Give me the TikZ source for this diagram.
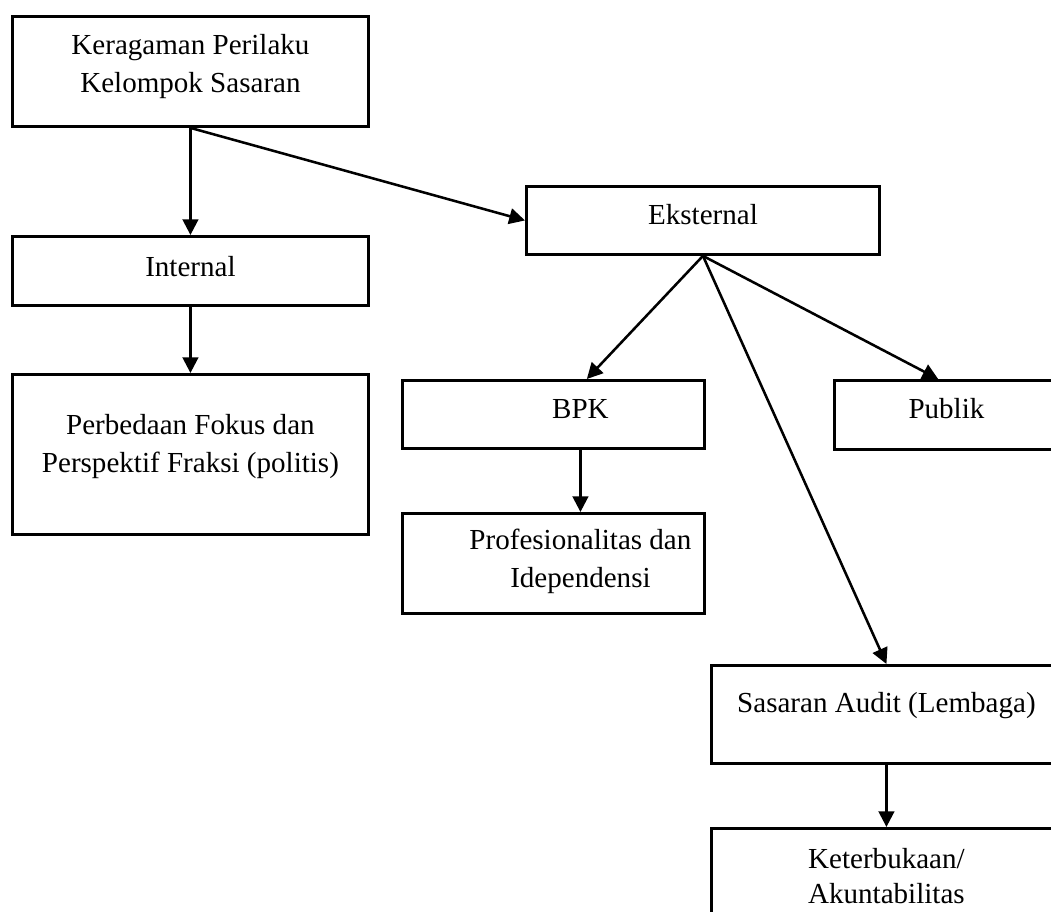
\documentclass[tikz,border=0pt]{standalone}
\usepackage{fontspec}
\setmainfont{Liberation Serif}
\usetikzlibrary{arrows.meta}
\newdimen\px \px=0.413pt
% isi kotak: geser kiri, lebar, tinggi, jarak atas, teks
\newcommand{\isi}[5]{\hspace*{#1\px}\parbox[t][#3\px][t]{#2\px}{\centering\vspace*{#4\px}\strut #5}}
\begin{document}
\begin{tikzpicture}[x=0.413pt,y=-0.413pt,>={Triangle[length=6.5pt,width=6.5pt]},
	kotak/.style={draw,line width=1.2pt,anchor=north west,inner sep=0pt,font=\fontsize{12}{15.5}\selectfont},
	panah/.style={->,line width=1.05pt}]
	\useasboundingbox (0,0) rectangle (1051,912);
	\clip (0,0) rectangle (1051,912);
	\node[kotak] (atas) at (11,15) {\isi{0}{356}{110}{12}{Keragaman Perilaku\\Kelompok Sasaran}};
	\node[kotak] (internal) at (11,235) {\isi{0}{356}{69}{14}{Internal}};
	\node[kotak] (perbedaan) at (11,373) {\isi{0}{356}{160}{34}{Perbedaan Fokus dan\\Perspektif Fraksi (politis)}};
	\node[kotak] (eksternal) at (525,185) {\isi{0}{353}{68}{12}{Eksternal}};
	\node[kotak] (bpk) at (401,379) {\isi{54}{248}{68}{12}{BPK}};
	\node[kotak] (profesi) at (401,512) {\isi{54}{248}{100}{10}{Profesionalitas dan\\Idependensi}};
	\node[kotak] (publik) at (833,379) {\isi{0}{224}{69}{12}{Publik}};
	\node[kotak] (sasaran) at (710,664) {\isi{0}{350}{98}{21}{Sasaran Audit (Lembaga)}};
	\node[kotak,font=\fontsize{12}{14.5}\selectfont] (terbuka) at (710,827) {\isi{0}{350}{133}{15}{Keterbukaan/\\Akuntabilitas}};
	\draw[panah] (atas.south) -- (internal.north);
	\draw[panah] (internal.south) -- (perbedaan.north);
	\draw[panah] (atas.south) -- (eksternal.west);
	\draw[panah] (eksternal.south) -- (bpk);
	\draw[panah] (eksternal.south) -- (publik.103);
	\draw[panah] (eksternal.south) -- (sasaran.north);
	\draw[panah] ([xshift=11.15pt]bpk.south) -- ([xshift=11.15pt]profesi.north);
	\draw[panah] (sasaran.south) -- (terbuka.north);
\end{tikzpicture}
\end{document}
